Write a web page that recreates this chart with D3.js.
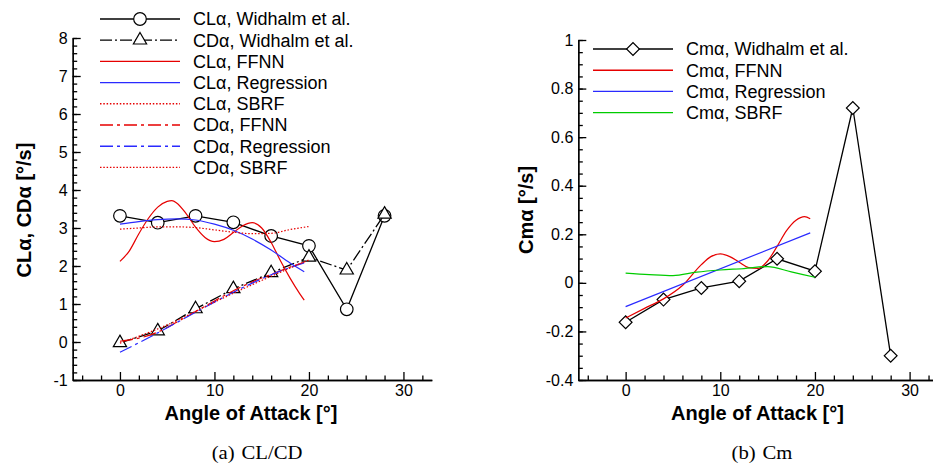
<!DOCTYPE html>
<html>
<head>
<meta charset="utf-8">
<script src="https://cdn.jsdelivr.net/npm/d3@7"></script>
<style>
  body { margin: 0; background: #fff; }
  svg { display: block; font-family: "Liberation Sans", Arial, sans-serif; }
  .axis path, .axis line { stroke: #000; stroke-width: 1.3; }
  .axis text { font-size: 16px; fill: #000; font-family: "Liberation Sans", Arial, sans-serif; }
  .axis-label { font-weight: bold; font-size: 20px; }
  .legend text { font-size: 18px; }
  .caption { font-family: "Liberation Serif", "Times New Roman", serif; font-size: 18px; }
</style>
</head>
<body>
<div id="chart"></div>
<script>
/**
 * DATA
 * */
const aoaExp = [0, 4, 8, 12, 16, 20, 24, 28];
const clExp = [3.32, 3.14, 3.32, 3.15, 2.79, 2.53, 0.86, 3.32];
const cdExp = [-0.02, 0.29, 0.87, 1.40, 1.82, 2.23, 1.89, 3.36];
const cmExp = [-0.162, -0.069, -0.021, 0.007, 0.099, 0.048, 0.72, -0.30];

const clFfnnAoa = [0, 1, 2, 3, 4, 5, 5.5, 6, 7, 8, 9, 10, 11, 12, 13, 14, 15, 16, 17, 18, 19, 19.5];
const clFfnn = [2.12, 2.40, 2.85, 3.25, 3.55, 3.70, 3.72, 3.66, 3.38, 3.02, 2.75, 2.64, 2.70, 2.88, 3.06, 3.14, 3.00, 2.62, 2.13, 1.68, 1.28, 1.10];
const clRegAoa = [0, 2, 4, 6, 8, 10, 12, 14, 16, 18, 19.5];
const clReg = [3.10, 3.17, 3.22, 3.24, 3.21, 3.10, 2.94, 2.71, 2.42, 2.08, 1.85];
const clSbrfAoa = [0, 2, 4, 6, 8, 10, 12, 14, 16, 18, 20];
const clSbrf = [2.97, 3.00, 3.03, 3.03, 3.01, 2.95, 2.89, 2.85, 2.86, 2.96, 3.04];

const cdFfnnAoa = [0, 2, 4, 6, 8, 10, 12, 14, 16, 18, 19.5];
const cdFfnn = [0.02, 0.10, 0.26, 0.52, 0.80, 1.08, 1.35, 1.58, 1.78, 1.97, 2.10];
const cdRegAoa = [0, 2, 4, 6, 8, 10, 12, 14, 16, 18, 19.5];
const cdReg = [-0.27, -0.02, 0.24, 0.51, 0.78, 1.05, 1.31, 1.55, 1.77, 1.96, 2.08];
const cdSbrfAoa = [0, 5, 10, 15, 20];
const cdSbrf = [-0.03, 0.45, 1.05, 1.62, 2.16];

const cmFfnnAoa = [0, 2, 4, 6, 8, 9, 10, 11, 12, 13, 14, 15, 16, 17, 18, 18.9, 19.5];
const cmFfnn = [-0.145, -0.105, -0.066, -0.011, 0.075, 0.108, 0.119, 0.108, 0.085, 0.063, 0.060, 0.09, 0.15, 0.215, 0.258, 0.273, 0.264];
const cmRegAoa = [0, 19.5];
const cmReg = [-0.098, 0.206];
const cmSbrfAoa = [0, 2.5, 5, 7.5, 10, 12.5, 15, 17.5, 20];
const cmSbrf = [0.040, 0.034, 0.030, 0.044, 0.053, 0.059, 0.067, 0.045, 0.023];

const xMajorTicks = [0, 10, 20, 30];
const clcdTicks = [-1, 0, 1, 2, 3, 4, 5, 6, 7, 8];
const cmTicks = [-0.4, -0.2, 0, 0.2, 0.4, 0.6, 0.8, 1];

const legendLeft = [
  "CL\u03b1, Widhalm et al.", "CD\u03b1, Widhalm et al.", "CL\u03b1, FFNN", "CL\u03b1, Regression",
  "CL\u03b1, SBRF", "CD\u03b1, FFNN", "CD\u03b1, Regression", "CD\u03b1, SBRF"
];
const legendRight = ["Cm\u03b1, Widhalm et al.", "Cm\u03b1, FFNN", "Cm\u03b1, Regression", "Cm\u03b1, SBRF"];

/**
 * STYLES
 * */
const RED = "#e60000", BLUE = "#2a2aff", GREEN = "#00cc00";
const DASHDOT_BLACK = "12,3,2,3";
const DASHDOT = "13,4,3,4";
const DOTTED = "1.5,1.8";

const zip = (xs, ys) => xs.map((x, i) => [x, ys[i]]);

const width = 933, height = 467;

const svg = d3.select("#chart")
  .append("svg")
  .attr("width", width)
  .attr("height", height);

svg.append("rect").attr("width", width).attr("height", height).attr("fill", "#fff");

function marker(g, type, cx, cy) {
  if (type === "circle") {
    g.append("circle").attr("cx", cx).attr("cy", cy).attr("r", 6.3)
      .attr("fill", "#fff").attr("stroke", "#000").attr("stroke-width", 1.2);
  } else if (type === "triangle") {
    g.append("path").attr("d", d3.symbol(d3.symbolTriangle, 76)())
      .attr("transform", `translate(${cx},${cy})`)
      .attr("fill", "#fff").attr("stroke", "#000").attr("stroke-width", 1.2);
  } else if (type === "diamond") {
    g.append("path").attr("d", d3.symbol(d3.symbolSquare, 82)())
      .attr("transform", `translate(${cx},${cy}) rotate(45)`)
      .attr("fill", "#fff").attr("stroke", "#000").attr("stroke-width", 1.2);
  }
}

function drawPanel(p) {
  const xScale = d3.scaleLinear().domain([-5, 33]).range(p.xRange);
  const yScale = d3.scaleLinear().domain(p.yDomain).range([380, p.yTop]);
  const g = svg.append("g");

  // minor + major x ticks (pointing inward)
  const xMinor = d3.range(-4, 33, 2).filter(d => d % 10 !== 0);
  g.append("g").attr("class", "axis")
    .attr("transform", `translate(0,380)`)
    .call(d3.axisBottom(xScale).tickValues(xMinor).tickSize(-4.5).tickSizeOuter(0).tickFormat(""));
  g.append("g").attr("class", "axis")
    .attr("transform", `translate(0,380)`)
    .call(d3.axisBottom(xScale).tickValues(xMajorTicks).tickSize(-8).tickSizeOuter(0).tickPadding(5));

  const yMinor = d3.range(p.yDomain[0], p.yDomain[1] + 1e-9, p.yMinorStep)
    .map(d => +d.toFixed(3));
  g.append("g").attr("class", "axis")
    .attr("transform", `translate(${p.xRange[0]},0)`)
    .call(d3.axisLeft(yScale).tickValues(yMinor).tickSize(-4.5).tickSizeOuter(0).tickFormat(""));
  g.append("g").attr("class", "axis")
    .attr("transform", `translate(${p.xRange[0]},0)`)
    .call(d3.axisLeft(yScale).tickValues(p.yTicks).tickSize(-8).tickSizeOuter(0).tickPadding(5)
      .tickFormat(d => String(+d.toFixed(1))));

  // experimental first, models on top
  p.series.forEach(s => {
    const line = d3.line()
      .x(d => xScale(d[0]))
      .y(d => yScale(d[1]))
      .curve(s.marker ? d3.curveLinear : d3.curveMonotoneX);
    g.append("path")
      .datum(s.data)
      .attr("fill", "none")
      .attr("stroke", s.color)
      .attr("stroke-width", s.marker ? 1.3 : 1.2)
      .attr("stroke-dasharray", s.dash || null)
      .attr("d", line);
    if (s.marker) {
      s.data.forEach(d => marker(g, s.marker, xScale(d[0]), yScale(d[1])));
    }
  });

  // legend
  const lg = g.append("g").attr("class", "legend");
  p.series.forEach((s, i) => {
    const yy = p.legendY + i * 21.2;
    lg.append("line")
      .attr("x1", p.legendX).attr("x2", p.legendX + 80)
      .attr("y1", yy).attr("y2", yy)
      .attr("stroke", s.color)
      .attr("stroke-width", s.marker ? 1.3 : 1.4)
      .attr("stroke-dasharray", s.dash || null);
    if (s.marker) marker(lg, s.marker, p.legendX + 40, yy);
    lg.append("text")
      .attr("x", p.legendX + 93).attr("y", yy).attr("dy", "0.36em")
      .text(p.legend[i]);
  });

  // axis labels
  g.append("text").attr("class", "axis-label")
    .attr("x", p.xLabelX).attr("y", 420)
    .attr("text-anchor", "middle")
    .text("Angle of Attack [\u00b0]");
  g.append("text").attr("class", "axis-label")
    .attr("transform", `translate(${p.yLabelX},210) rotate(-90)`)
    .attr("text-anchor", "middle")
    .text(p.yLabel);

  // caption, a little stretched sideways like the original
  const cap = g.append("text").attr("class", "caption")
    .attr("transform", `translate(${p.captionX},459) scale(1.15,1)`)
    .attr("text-anchor", "middle");
  cap.append("tspan").text(p.caption[0]);
  cap.append("tspan").attr("dx", 6).text(p.caption[1]);
}

drawPanel({
  xRange: [72.7, 431.8],
  yDomain: [-1, 8], yTop: 38, yTicks: clcdTicks, yMinorStep: 0.2,
  legendX: 100, legendY: 19, legend: legendLeft,
  xLabelX: 251, yLabelX: 31, yLabel: "CL\u03b1, CD\u03b1 [\u00b0/s]",
  captionX: 257, caption: ["(a)", "CL/CD"],
  series: [
    { data: zip(aoaExp, clExp), color: "#000", marker: "circle" },
    { data: zip(aoaExp, cdExp), color: "#000", marker: "triangle", dash: DASHDOT_BLACK },
    { data: zip(clFfnnAoa, clFfnn), color: RED },
    { data: zip(clRegAoa, clReg), color: BLUE },
    { data: zip(clSbrfAoa, clSbrf), color: RED, dash: DOTTED },
    { data: zip(cdFfnnAoa, cdFfnn), color: RED, dash: DASHDOT },
    { data: zip(cdRegAoa, cdReg), color: BLUE, dash: DASHDOT },
    { data: zip(cdSbrfAoa, cdSbrf), color: RED, dash: DOTTED }
  ]
});

drawPanel({
  xRange: [578.3, 938],
  yDomain: [-0.4, 1], yTop: 40, yTicks: cmTicks, yMinorStep: 0.05,
  legendX: 593, legendY: 49, legend: legendRight,
  xLabelX: 757.5, yLabelX: 533, yLabel: "Cm\u03b1 [\u00b0/s]",
  captionX: 762, caption: ["(b)", "Cm"],
  series: [
    { data: zip(aoaExp, cmExp), color: "#000", marker: "diamond" },
    { data: zip(cmFfnnAoa, cmFfnn), color: RED },
    { data: zip(cmRegAoa, cmReg), color: BLUE },
    { data: zip(cmSbrfAoa, cmSbrf), color: GREEN }
  ]
});
</script>
</body>
</html>
